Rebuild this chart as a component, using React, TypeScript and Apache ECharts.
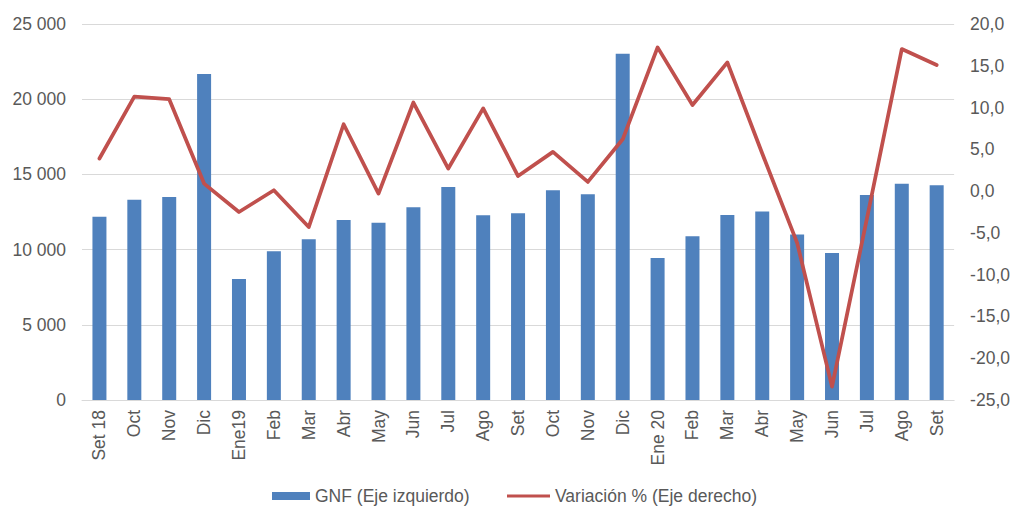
import React, { useEffect, useRef } from "react";
import * as echarts from "echarts";

const categories = [
  "Set 18", "Oct", "Nov", "Dic", "Ene19", "Feb", "Mar", "Abr", "May", "Jun", "Jul", "Ago",
  "Set", "Oct", "Nov", "Dic", "Ene 20", "Feb", "Mar", "Abr", "May", "Jun", "Jul", "Ago", "Set",
];
const gnfValues = [
  12190, 13320, 13500, 21680, 8050, 9890, 10680, 11970, 11790, 12810, 14160, 12280,
  12410, 13940, 13680, 23030, 9440, 10880, 12300, 12540, 11010, 9770, 13630, 14380, 14280,
];
const variationValues = [
  3.9, 11.3, 11.0, 0.9, -2.5, 0.1, -4.3, 8.0, -0.3, 10.6, 2.7, 9.9,
  1.8, 4.7, 1.1, 6.2, 17.2, 10.3, 15.4, 4.5, -6.2, -23.4, -3.3, 17.0, 15.1,
];
const gnfName = "GNF (Eje izquierdo)";
const varName = "Variación % (Eje derecho)";

const FONT = "'Liberation Sans', Arial, sans-serif";
const TEXT = "#595959";
const GRID = "#D9D9D9";
const FS = 17.5;

export default function App() {
  const ref = useRef<HTMLDivElement>(null);
  useEffect(() => {
    if (!ref.current) return;
    const chart = echarts.init(ref.current, undefined, { renderer: "svg" });
    chart.setOption({
      animation: false,
      textStyle: { fontFamily: FONT },
      grid: { left: 82, right: 58, top: 24, bottom: 106, containLabel: false },
      legend: [
        {
          data: [{ name: gnfName, icon: "rect" }],
          left: 272,
          top: 487,
          padding: 0,
          itemWidth: 38,
          itemHeight: 8,
          textStyle: { color: TEXT, fontSize: FS, lineHeight: 17.5, fontFamily: FONT },
        },
        {
          data: [{ name: varName, icon: "rect" }],
          left: 507,
          top: 487,
          padding: 0,
          itemWidth: 43,
          itemHeight: 3,
          textStyle: { color: TEXT, fontSize: FS, lineHeight: 17.5, fontFamily: FONT },
        },
      ],
      xAxis: {
        type: "category",
        data: categories,
        axisLine: { lineStyle: { color: GRID, width: 1 } },
        axisTick: { show: false },
        axisLabel: {
          rotate: 90,
          interval: 0,
          margin: 10,
          color: TEXT,
          fontSize: FS,
          fontFamily: FONT,
        },
      },
      yAxis: [
        {
          type: "value",
          min: 0,
          max: 25000,
          interval: 5000,
          axisLine: { show: false },
          axisTick: { show: false },
          splitLine: { lineStyle: { color: GRID, width: 1 } },
          axisLabel: {
            margin: 16,
            color: TEXT,
            fontSize: FS,
            fontFamily: FONT,
            formatter: (v: number) => String(v).replace(/\B(?=(\d{3})+(?!\d))/g, " "),
          },
        },
        {
          type: "value",
          min: -25,
          max: 20,
          interval: 5,
          axisLine: { show: false },
          axisTick: { show: false },
          splitLine: { show: false },
          axisLabel: {
            margin: 16,
            color: TEXT,
            fontSize: FS,
            fontFamily: FONT,
            formatter: (v: number) => v.toFixed(1).replace(".", ","),
          },
        },
      ],
      series: [
        {
          name: gnfName,
          type: "bar",
          yAxisIndex: 0,
          data: gnfValues,
          barWidth: 14,
          itemStyle: { color: "#4F81BD" },
        },
        {
          name: varName,
          type: "line",
          yAxisIndex: 1,
          data: variationValues,
          symbol: "none",
          lineStyle: { color: "#C0504D", width: 3.75, join: "round", cap: "round" },
          itemStyle: { color: "#C0504D" },
        },
      ],
    });
    return () => chart.dispose();
  }, []);
  return (
    <div
      ref={ref}
      style={{ position: "fixed", left: 0, top: 0, width: 1013, height: 506, background: "#fff" }}
    />
  );
}
